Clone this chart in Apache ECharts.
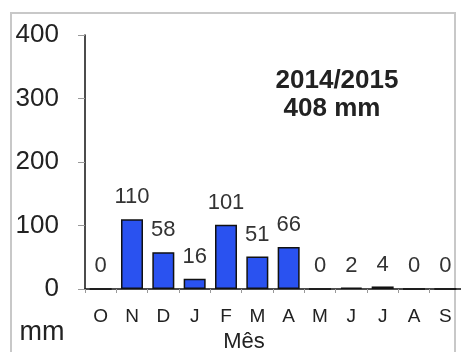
<!DOCTYPE html>
<html>
<head>
<meta charset="utf-8">
<script src="https://cdn.jsdelivr.net/npm/echarts@6/dist/echarts.min.js"></script>
<style>
  html, body { margin: 0; padding: 0; background: #fff; }
  #chart { width: 461px; height: 352px; }
</style>
</head>
<body>
<div id="chart"></div>
<script>
// Monthly rainfall for the 2014/2015 season (October to September), in mm
const months = ['O', 'N', 'D', 'J', 'F', 'M', 'A', 'M', 'J', 'J', 'A', 'S'];
const rainfall = [0, 110, 58, 16, 101, 51, 66, 0, 2, 4, 0, 0];
const yTicks = [0, 100, 200, 300, 400];
const seasonLabel = '2014/2015';
const totalLabel = rainfall.reduce((a, b) => a + b, 0) + ' mm';

const FONT = '"Liberation Sans", Arial, sans-serif';
const chart = echarts.init(document.getElementById('chart'), null, { renderer: 'canvas' });

chart.setOption({
  animation: false,
  backgroundColor: '#fff',
  grid: { left: 85, right: 0, top: 35, bottom: 63 },
  xAxis: {
    type: 'category',
    data: months,
    axisLine: { lineStyle: { color: '#111', width: 1.5 } },
    axisTick: { show: true, length: 4, lineStyle: { color: '#999' } },
    axisLabel: { color: '#222', fontFamily: FONT, fontSize: 19, margin: 18 }
  },
  yAxis: {
    type: 'value',
    min: yTicks[0],
    max: yTicks[yTicks.length - 1],
    interval: 100,
    splitLine: { show: false },
    axisLine: { show: true, lineStyle: { color: '#111', width: 1.5 } },
    axisTick: { show: true, length: 7, lineStyle: { color: '#999' } },
    axisLabel: { color: '#222', fontFamily: FONT, fontSize: 26, margin: 26 }
  },
  series: [{
    type: 'bar',
    data: rainfall,
    barWidth: 22,
    itemStyle: { color: '#2a52f0', borderColor: '#111', borderWidth: 1.5 },
    label: {
      show: true,
      position: 'top',
      distance: 11,
      color: '#333',
      fontFamily: FONT,
      fontSize: 22
    }
  }],
  graphic: [
    { type: 'rect', shape: { x: 11, y: 13, width: 444, height: 360 },
      style: { fill: null, stroke: '#c8c8c8', lineWidth: 2 }, silent: true },
    { type: 'text', x: 337, y: 81,
      style: { text: seasonLabel, font: 'bold 26px ' + FONT, fill: '#222',
               textAlign: 'center', textVerticalAlign: 'middle' } },
    { type: 'text', x: 332, y: 109,
      style: { text: totalLabel, font: 'bold 26px ' + FONT, fill: '#222',
               textAlign: 'center', textVerticalAlign: 'middle' } },
    { type: 'text', x: 42, y: 333,
      style: { text: 'mm', font: '27px ' + FONT, fill: '#222',
               textAlign: 'center', textVerticalAlign: 'middle' } },
    { type: 'text', x: 244, y: 342,
      style: { text: 'Mês', font: '22px ' + FONT, fill: '#222',
               textAlign: 'center', textVerticalAlign: 'middle' } }
  ]
});
</script>
</body>
</html>
